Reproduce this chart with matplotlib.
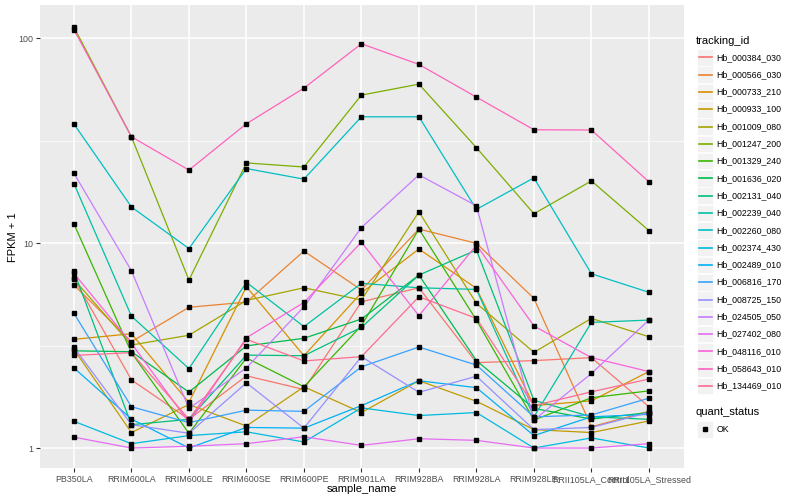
import matplotlib
matplotlib.use("Agg")
import matplotlib.pyplot as plt
from matplotlib.lines import Line2D
from matplotlib.patches import Rectangle
import numpy as np

plt.rcParams['font.family'] = ['Liberation Sans', 'DejaVu Sans']

samples = ['PB350LA', 'RRIM600LA', 'RRIM600LE', 'RRIM600SE', 'RRIM600PE',
           'RRIM901LA', 'RRIM928BA', 'RRIM928LA', 'RRIM928LE',
           'RRII105LA_Control', 'RRII105LA_Stressed']

tracking_ids = ['Hb_000384_030', 'Hb_000566_030', 'Hb_000733_210', 'Hb_000933_100',
                'Hb_001009_080', 'Hb_001247_200', 'Hb_001329_240', 'Hb_001636_020',
                'Hb_002131_040', 'Hb_002239_040', 'Hb_002260_080', 'Hb_002374_430',
                'Hb_002489_010', 'Hb_006816_170', 'Hb_008725_150', 'Hb_024505_050',
                'Hb_027402_080', 'Hb_048116_010', 'Hb_058643_010', 'Hb_134469_010']

colors = ["#F8766D", "#EA8331", "#D89000", "#C09B00", "#A3A500", "#7CAE00",
          "#39B600", "#00BB4E", "#00BF7D", "#00C1A3", "#00BFC4", "#00BAE0",
          "#00B0F6", "#35A2FF", "#9590FF", "#C77CFF", "#E76BF3", "#FA62DB",
          "#FF62BC", "#FF6C91"]

hb_000384_030 = [6.73, 2.15, 1.38, 2.25, 1.93, 5.17, 6.05, 2.61, 2.67, 2.76, 1.59]
hb_000566_030 = [6.24, 3.30, 4.86, 5.15, 9.14, 5.90, 11.7, 9.97, 5.37, 1.27, 1.51]
hb_000733_210 = [3.39, 3.61, 1.67, 6.12, 2.82, 5.72, 9.35, 6.01, 1.61, 1.70, 2.36]
hb_000933_100 = [3.03, 1.19, 1.63, 1.28, 1.99, 1.49, 2.13, 1.69, 1.23, 1.19, 1.355]
hb_001009_080 = [6.65, 3.18, 3.55, 5.25, 6.05, 5.27, 14.2, 5.08, 2.93, 4.29, 3.49]
hb_001247_200 = [113, 33, 6.6, 24.6, 23.5, 52.7, 59.6, 29.2, 13.9, 20.1, 11.5]
hb_001329_240 = [12.4, 2.92, 1.18, 2.75, 1.99, 3.95, 11.7, 4.21, 1.37, 1.76, 1.90]
hb_001636_020 = [2.98, 2.95, 1.875, 3.15, 3.43, 4.26, 6.98, 2.67, 1.56, 1.385, 1.49]
hb_002131_040 = [7.28, 1.30, 1.38, 2.84, 2.82, 3.88, 6.98, 9.25, 1.71, 1.42, 1.38]
hb_002239_040 = [19.5, 4.40, 2.44, 6.43, 3.91, 6.36, 6.05, 5.94, 1.42, 4.10, 4.21]
hb_002260_080 = [38.1, 15.0, 9.4, 23.1, 20.5, 41.3, 41.3, 14.6, 20.8, 7.08, 5.75]
hb_002374_430 = [1.35, 1.05, 1.15, 1.20, 1.07, 1.57, 1.44, 1.49, 1.00, 1.12, 1.00]
hb_002489_010 = [2.46, 1.385, 1.00, 1.26, 1.25, 1.61, 2.13, 1.97, 1.15, 1.42, 1.46]
hb_006816_170 = [4.54, 1.59, 1.33, 1.53, 1.51, 2.49, 3.11, 2.54, 1.42, 1.45, 1.75]
hb_008725_150 = [3.10, 1.30, 1.18, 2.08, 1.25, 2.79, 1.87, 2.24, 1.23, 1.26, 1.49]
hb_024505_050 = [21.9, 7.33, 1.56, 2.46, 4.89, 11.9, 21.5, 15.2, 1.37, 2.31, 4.21]
hb_027402_080 = [1.13, 1.00, 1.02, 1.05, 1.135, 1.03, 1.11, 1.09, 1.00, 1.00, 1.05]
hb_048116_010 = [7.11, 3.24, 1.33, 3.45, 5.13, 10.1, 4.42, 9.78, 3.94, 2.76, 2.36]
hb_058643_010 = [110, 33, 22.7, 38.2, 57, 93.8, 74.4, 51.5, 35.7, 35.6, 19.9]
hb_134469_010 = [2.83, 2.92, 1.38, 3.39, 2.66, 2.79, 5.47, 4.29, 1.61, 1.88, 2.17]

series = [hb_000384_030, hb_000566_030, hb_000733_210, hb_000933_100, hb_001009_080,
          hb_001247_200, hb_001329_240, hb_001636_020, hb_002131_040, hb_002239_040,
          hb_002260_080, hb_002374_430, hb_002489_010, hb_006816_170, hb_008725_150,
          hb_024505_050, hb_027402_080, hb_048116_010, hb_058643_010, hb_134469_010]

W, H = 800, 500
fig = plt.figure(figsize=(8, 5), dpi=100)
fig.patch.set_facecolor('white')

L, R, T, B = 40, 684, 5, 468
ax = fig.add_axes([L / W, 1 - B / H, (R - L) / W, (B - T) / H])
ax.set_facecolor('#EBEBEB')
for s in ax.spines.values():
    s.set_visible(False)

x = np.arange(len(samples))
for vals, col in zip(series, colors):
    ax.plot(x, vals, color=col, lw=0.9, zorder=3)
for vals in series:
    ax.plot(x, vals, ls='none', marker='s', ms=2.2, color='black', zorder=4)

ax.set_yscale('log')
ax.set_ylim(0.799, 145)
ax.set_xlim(-0.59, 10.61)

ax.set_yticks([1, 10, 100])
ax.set_yticklabels(['1', '10', '100'])
ax.set_yticks([10 ** 0.5, 10 ** 1.5], minor=True)
ax.yaxis.set_minor_formatter(plt.NullFormatter())
ax.set_xticks(x)
ax.set_xticklabels(samples)

ax.grid(True, which='major', axis='both', color='white', lw=1.1, zorder=0)
ax.grid(True, which='minor', axis='y', color='white', lw=0.5, zorder=0)
ax.set_axisbelow(True)
ax.tick_params(axis='both', which='major', length=3, width=0.8, color='#333333',
               labelcolor='#4D4D4D', labelsize=6.4, pad=2)
ax.tick_params(axis='y', which='minor', length=0)

fig.text(((L + R) / 2) / W, 1 - 489 / H, 'sample_name', ha='center', va='center',
         fontsize=8, color='black')
fig.text(13 / W, 1 - 237 / H, 'FPKM + 1', ha='center', va='center', rotation=90,
         fontsize=8, color='black')

# legend: tracking_id
fig.text(696 / W, 1 - 40.5 / H, 'tracking_id', ha='left', va='center', fontsize=8)
for i, (tid, col) in enumerate(zip(tracking_ids, colors)):
    cy = 57.3 + 17.3 * i
    fig.add_artist(Rectangle((697 / W, 1 - (cy + 8.3) / H), 16 / W, 16.6 / H,
                             transform=fig.transFigure, facecolor='#F2F2F2',
                             edgecolor='white', lw=0.5))
    fig.add_artist(Line2D([698.5 / W, 711.5 / W], [1 - cy / H, 1 - cy / H],
                          transform=fig.transFigure, color=col, lw=1.2))
    fig.text(716.5 / W, 1 - cy / H, tid, ha='left', va='center', fontsize=6.3)

# legend: quant_status
fig.text(696 / W, 1 - 412.3 / H, 'quant_status', ha='left', va='center', fontsize=8)
cy = 429.3
fig.add_artist(Rectangle((697 / W, 1 - (cy + 8.3) / H), 16 / W, 16.6 / H,
                         transform=fig.transFigure, facecolor='#F2F2F2',
                         edgecolor='white', lw=0.5))
fig.add_artist(Line2D([705 / W], [1 - cy / H], transform=fig.transFigure,
                      ls='none', marker='s', ms=2.2, color='black'))
fig.text(716.5 / W, 1 - cy / H, 'OK', ha='left', va='center', fontsize=6.3)

fig.savefig('out.png', dpi=100)
